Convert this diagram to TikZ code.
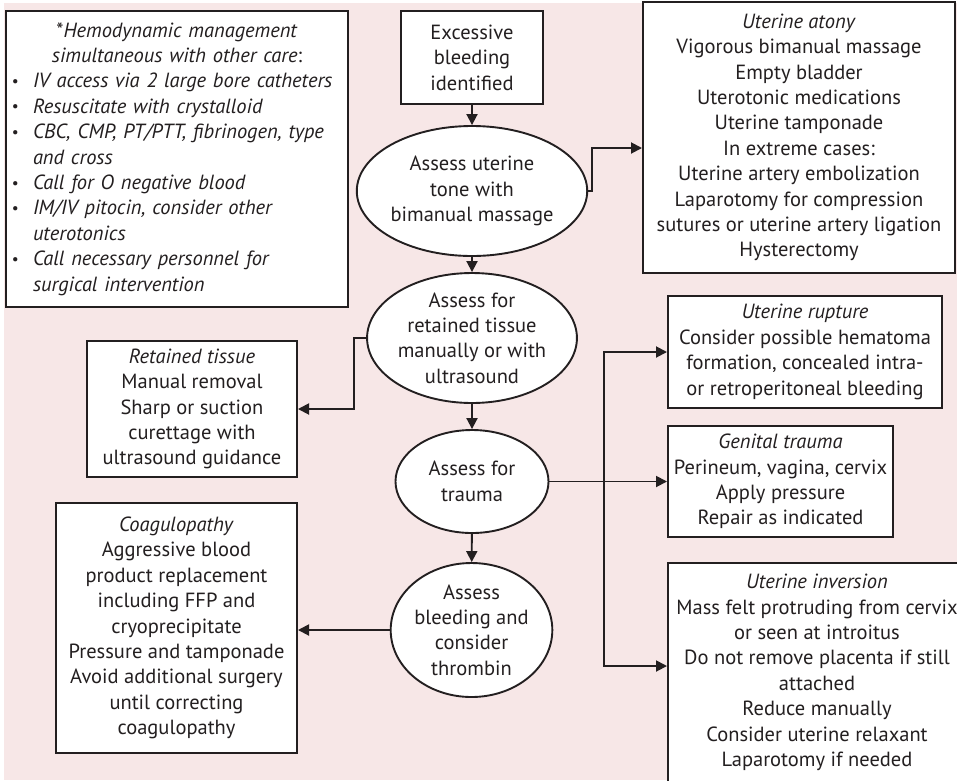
\documentclass[tikz,border=0pt]{standalone}
\usepackage{fontspec}
\setmainfont{PT Sans}
\usetikzlibrary{shapes.geometric,arrows.meta}
\definecolor{bgpink}{RGB}{247,231,231}
\definecolor{ink}{RGB}{35,31,32}
% bullet and hanging indent for the hemodynamic list
\newcommand\hbul{\makebox[21pt][l]{\raisebox{0.15ex}{\scalebox{0.75}{\textbullet}}}}
\newcommand\hind{\hspace*{21pt}}
\tikzset{
  box/.style={draw=ink, line width=2pt, fill=white, rectangle, inner sep=0pt, align=center, text=ink},
  oval/.style={draw=ink, line width=1.9pt, fill=white, ellipse, inner sep=0pt, align=center, text=ink},
  arr/.style={draw=ink, line width=1.9pt, -{Triangle[length=11pt,width=11pt]}},
}
\begin{document}
\begin{tikzpicture}[x=1pt, y=-1pt, font=\fontsize{20.5}{25.4}\selectfont]
\useasboundingbox (0,0) rectangle (957,780);
\clip (0,0) rectangle (957,780);
\fill[bgpink] (4,3) rectangle (957,780);

% side panel: hemodynamic management
\node[box, minimum width=342pt, minimum height=296pt, text width=330pt, align=left] (hemo) at (177,159)
 {\makebox[330pt][c]{*\textit{Hemodynamic management}}\\
  \makebox[330pt][c]{\textit{simultaneous with other care}:}\\
  \hbul\textit{IV access via 2 large bore catheters}\\
  \hbul\textit{Resuscitate with crystalloid}\\
  \hbul\textit{CBC, CMP, PT/PTT, fibrinogen, type}\\
  \hind\textit{and cross}\\
  \hbul\textit{Call for O negative blood}\\
  \hbul\textit{IM/IV pitocin, consider other}\\
  \hind\textit{uterotonics}\\
  \hbul\textit{Call necessary personnel for}\\
  \hind\textit{surgical intervention}};

% main sequence
\node[box, minimum width=142pt, minimum height=93pt] (start) at (472,57.5)
 {Excessive\\bleeding\\identified};
\node[oval, minimum width=200pt, minimum height=130pt] (tone) at (472,191)
 {Assess uterine\\tone with\\bimanual massage};
\node[oval, minimum width=201pt, minimum height=130pt] (tissue) at (472,338)
 {Assess for\\retained tissue\\manually or with\\ultrasound};
\node[oval, minimum width=153pt, minimum height=103pt] (trauma) at (472,481.5)
 {Assess for\\trauma};
\node[oval, minimum width=157pt, minimum height=134pt] (coagtest) at (471.5,630)
 {Assess\\bleeding and\\consider\\thrombin};

% management boxes
\node[box, minimum width=312pt, minimum height=271pt] (atony) at (799,137.5)
 {\textit{Uterine atony}\\Vigorous bimanual massage\\Empty bladder\\Uterotonic medications\\Uterine tamponade\\In extreme cases:\\Uterine artery embolization\\Laparotomy for compression\\sutures or uterine artery ligation\\Hysterectomy};
\node[box, minimum width=210pt, minimum height=136pt] (retained) at (192,409)
 {\textit{Retained tissue}\\Manual removal\\Sharp or suction\\curettage with\\ultrasound guidance};
\node[box, minimum width=241pt, minimum height=250pt] (coag) at (176.5,628)
 {\textit{Coagulopathy}\\Aggressive blood\\product replacement\\including FFP and\\cryoprecipitate\\Pressure and tamponade\\Avoid additional surgery\\until correcting\\coagulopathy};
\node[box, minimum width=274pt, minimum height=112pt] (rupture) at (805,352)
 {\textit{Uterine rupture}\\Consider possible hematoma\\formation, concealed intra-\\or retroperitoneal bleeding};
\node[box, minimum width=225pt, minimum height=111pt] (genital) at (780.5,481.5)
 {\textit{Genital trauma}\\Perineum, vagina, cervix\\Apply pressure\\Repair as indicated};
\node[box, minimum width=298pt, minimum height=219pt] (inversion) at (817,672.5)
 {\textit{Uterine inversion}\\Mass felt protruding from cervix\\or seen at introitus\\Do not remove placenta if still\\attached\\Reduce manually\\Consider uterine relaxant\\Laparotomy if needed};

% connectors
\coordinate (bendA) at (592,148);
\coordinate (bendB) at (354,409);
\coordinate (split) at (604,482);
\coordinate (bendC) at (604,666);

\draw[arr] (start) -- (tone);
\draw[arr] (tone.east) -| (bendA) -- (bendA -| atony.west);
\draw[arr] (tone) -- (tissue);
\draw[arr] (tissue.west) -| (bendB) -- (retained.east);
\draw[arr] (tissue) -- (trauma);
\draw[arr] (trauma.east) -- (trauma.east -| genital.west);
\draw[arr] (split) |- (rupture.west);
\draw[arr] (split) -- (bendC) -- (bendC -| inversion.west);
\draw[arr] (trauma) -- (coagtest);
\draw[arr] (coagtest.west) -- (coagtest.west -| coag.east);
\end{tikzpicture}
\end{document}
